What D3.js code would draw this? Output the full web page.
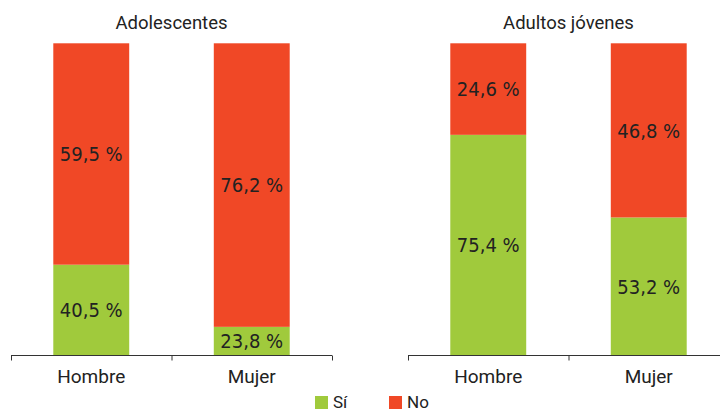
<!DOCTYPE html>
<html><head><meta charset="utf-8">
<script src="https://cdn.jsdelivr.net/npm/d3@7"></script>
<style>
html,body{margin:0;padding:0;background:#fff;}
svg{display:block;}
</style></head>
<body>
<svg id="chart" width="720" height="412"></svg>
<script>
const groups = ["Adolescentes", "Adultos jóvenes"];
const categories = ["Hombre", "Mujer"];
const seriesNames = ["Sí", "No"];
const siValues = [[40.5, 23.8], [75.4, 53.2]];
const noValues = [[59.5, 76.2], [24.6, 46.8]];
const colors = ["#a0ca3c", "#f04826"];

const svg = d3.select("#chart");
const textColor = "#222";
const labelFont = "Roboto, 'Noto Sans', sans-serif";
const numFont = "'Liberation Sans Narrow', 'DejaVu Sans Condensed', sans-serif";

const y = d3.scaleLinear().domain([16.1, 100]).range([355.5, 43.3]);
const panelRanges = [[11, 332], [408, 729]];
const fmt = v => d3.format(".1f")(v).replace(".", ",") + " %";

groups.forEach((g, gi) => {
  const x = d3.scaleBand().domain(categories).range(panelRanges[gi])
    .paddingInner(0.527).paddingOuter(0.2635);
  const p = svg.append("g");
  const [x0, x1] = panelRanges[gi];

  // title
  p.append("text").attr("x", (x0 + x1) / 2).attr("y", 29)
    .attr("text-anchor", "middle").attr("font-family", labelFont)
    .attr("font-size", 18.5).attr("fill", textColor).text(g);

  categories.forEach((c, ci) => {
    const stack = [
      {s: 0, lo: y.domain()[0], hi: siValues[gi][ci], v: siValues[gi][ci]},
      {s: 1, lo: siValues[gi][ci], hi: siValues[gi][ci] + noValues[gi][ci], v: noValues[gi][ci]}
    ];
    stack.forEach(d => {
      const top = y(Math.min(d.hi, 100));
      const bot = y(d.lo);
      p.append("rect").attr("x", x(c)).attr("width", x.bandwidth())
        .attr("y", top).attr("height", bot - top).attr("fill", colors[d.s]);
      p.append("text").attr("x", x(c) + x.bandwidth() / 2).attr("y", (top + bot) / 2)
        .attr("dy", "0.36em").attr("text-anchor", "middle")
        .attr("font-family", numFont).attr("font-size", 20).attr("fill", textColor)
        .text(fmt(d.v));
    });
  });

  // axis
  const axis = d3.axisBottom(x).tickSize(0).tickPadding(14);
  const ag = p.append("g").attr("transform", `translate(0,${y.range()[0]})`).call(axis);
  ag.select(".domain").remove();
  ag.selectAll("text").attr("font-family", labelFont).attr("font-size", 19).attr("fill", textColor);
  p.append("line").attr("x1", x0).attr("x2", x1).attr("y1", 355.5).attr("y2", 355.5)
    .attr("stroke", "#333").attr("stroke-width", 1);
  const bounds = [x0, x0 + x.step(), x1];
  bounds.forEach(b => {
    p.append("line").attr("x1", b + 0.5).attr("x2", b + 0.5).attr("y1", 355.5).attr("y2", 360.5)
      .attr("stroke", "#333").attr("stroke-width", 1);
  });
});

// legend
const leg = svg.append("g");
const legX = [315, 389];
seriesNames.forEach((s, i) => {
  leg.append("rect").attr("x", legX[i]).attr("y", 396).attr("width", 13).attr("height", 13).attr("fill", colors[i]);
  leg.append("text").attr("x", legX[i] + 18).attr("y", 408).attr("font-family", labelFont)
    .attr("font-size", 17).attr("fill", textColor).text(s);
});
</script>
</body></html>
